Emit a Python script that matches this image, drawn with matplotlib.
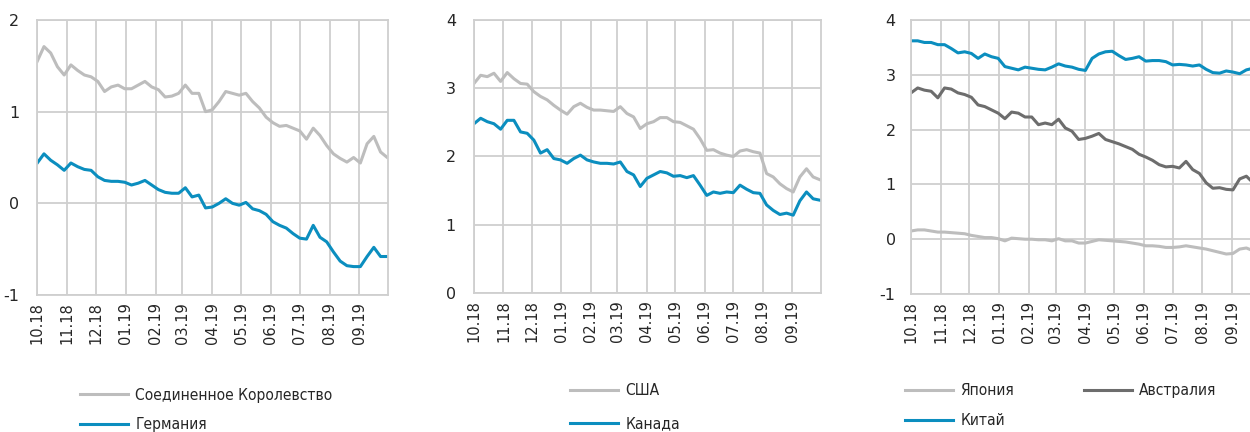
import numpy as np
import pandas as pd
import matplotlib
matplotlib.use("Agg")
import matplotlib.pyplot as plt
import matplotlib.dates as mdates
from matplotlib import font_manager

plt.rcParams["axes.unicode_minus"] = False

# weekly observations, 01.10.2018 - 30.09.2019
dates = pd.date_range("2018-10-01", periods=53, freq="7D")

uk = [1.55, 1.71, 1.64, 1.49, 1.40, 1.51, 1.45, 1.40, 1.38, 1.33, 1.22, 1.27, 1.29,
      1.25, 1.25, 1.29, 1.33, 1.27, 1.24, 1.16, 1.17, 1.20, 1.29, 1.20, 1.20, 1.00,
      1.02, 1.11, 1.22, 1.20, 1.18, 1.20, 1.11, 1.04, 0.94, 0.88, 0.84, 0.85, 0.82,
      0.79, 0.70, 0.82, 0.74, 0.63, 0.54, 0.49, 0.45, 0.50, 0.44, 0.65, 0.73, 0.56, 0.50]
germany = [0.44, 0.54, 0.47, 0.42, 0.36, 0.44, 0.40, 0.37, 0.36, 0.29, 0.25, 0.24, 0.24,
           0.23, 0.20, 0.22, 0.25, 0.20, 0.15, 0.12, 0.11, 0.11, 0.17, 0.07, 0.09, -0.05,
           -0.04, 0.00, 0.05, 0.00, -0.02, 0.01, -0.06, -0.08, -0.12, -0.20, -0.24, -0.27,
           -0.33, -0.38, -0.39, -0.24, -0.37, -0.42, -0.53, -0.63, -0.68, -0.69, -0.69,
           -0.58, -0.48, -0.58, -0.58]

usa = [3.07, 3.19, 3.17, 3.22, 3.10, 3.23, 3.14, 3.07, 3.06, 2.95, 2.88, 2.83, 2.75,
       2.68, 2.62, 2.73, 2.78, 2.72, 2.68, 2.68, 2.67, 2.66, 2.73, 2.63, 2.58, 2.41,
       2.48, 2.51, 2.57, 2.57, 2.51, 2.50, 2.45, 2.40, 2.26, 2.09, 2.10, 2.05, 2.02,
       2.00, 2.08, 2.10, 2.07, 2.05, 1.75, 1.70, 1.60, 1.53, 1.48, 1.70, 1.82, 1.70, 1.66]
canada = [2.48, 2.56, 2.51, 2.48, 2.40, 2.53, 2.53, 2.36, 2.34, 2.24, 2.05, 2.10, 1.97,
          1.95, 1.90, 1.97, 2.02, 1.95, 1.92, 1.90, 1.90, 1.89, 1.92, 1.78, 1.73, 1.56,
          1.68, 1.73, 1.78, 1.76, 1.71, 1.72, 1.69, 1.72, 1.58, 1.43, 1.48, 1.46, 1.48,
          1.47, 1.58, 1.52, 1.47, 1.46, 1.29, 1.21, 1.15, 1.17, 1.14, 1.35, 1.48, 1.38, 1.36]

japan = [0.15, 0.17, 0.17, 0.15, 0.13, 0.13, 0.12, 0.11, 0.10, 0.07, 0.05, 0.03, 0.03,
         0.01, -0.03, 0.02, 0.01, 0.00, 0.00, -0.01, -0.01, -0.03, 0.01, -0.03, -0.03,
         -0.07, -0.07, -0.04, -0.01, -0.02, -0.03, -0.04, -0.05, -0.07, -0.09, -0.12,
         -0.12, -0.13, -0.15, -0.15, -0.14, -0.12, -0.14, -0.16, -0.18, -0.21, -0.24,
         -0.27, -0.26, -0.18, -0.16, -0.21, -0.21]
australia = [2.67, 2.76, 2.72, 2.70, 2.58, 2.76, 2.74, 2.67, 2.64, 2.59, 2.45, 2.42, 2.36,
             2.30, 2.20, 2.32, 2.30, 2.23, 2.23, 2.09, 2.12, 2.09, 2.19, 2.03, 1.97, 1.82,
             1.84, 1.88, 1.93, 1.82, 1.78, 1.74, 1.69, 1.64, 1.55, 1.50, 1.44, 1.36, 1.32,
             1.33, 1.30, 1.42, 1.27, 1.20, 1.03, 0.93, 0.94, 0.91, 0.90, 1.10, 1.15, 1.03, 1.05]
china = [3.62, 3.62, 3.59, 3.59, 3.55, 3.55, 3.48, 3.40, 3.42, 3.39, 3.30, 3.38, 3.33,
         3.30, 3.15, 3.12, 3.09, 3.14, 3.12, 3.10, 3.09, 3.14, 3.20, 3.16, 3.14, 3.10,
         3.08, 3.30, 3.38, 3.42, 3.43, 3.35, 3.28, 3.30, 3.33, 3.25, 3.26, 3.26, 3.24,
         3.18, 3.19, 3.18, 3.16, 3.18, 3.10, 3.04, 3.03, 3.07, 3.05, 3.02, 3.09, 3.12, 3.12]

BLUE = "#0b8ebf"
LGRAY = "#bdbdbd"
DGRAY = "#6d6d6d"
GRID = "#cfcfcf"
TXT = "#262626"

fig = plt.figure(figsize=(12.5, 4.32), dpi=100)

def make_ax(rect, ylim, yticks, ypad):
    ax = fig.add_axes(rect)
    ax.set_xlim(pd.Timestamp("2018-10-01"), pd.Timestamp("2019-10-01"))
    ax.set_ylim(*ylim)
    ax.set_yticks(yticks)
    ax.xaxis.set_major_locator(mdates.MonthLocator())
    ax.xaxis.set_major_formatter(mdates.DateFormatter("%m.%y"))
    ticks = ax.get_xticks()
    ax.set_xticks(ticks[:-1])
    ax.grid(True, color=GRID, linewidth=1.3)
    ax.set_axisbelow(True)
    for s in ax.spines.values():
        s.set_color(GRID)
        s.set_linewidth(1.3)
    ax.tick_params(axis="x", length=0, pad=5, labelsize=10.5, labelrotation=90,
                   labelcolor=TXT)
    ax.tick_params(axis="y", length=0, pad=ypad, labelsize=11.5, labelcolor=TXT)
    return ax

ax1 = make_ax([0.0298, 0.3171, 0.2808, 0.6366], (-1, 2), [-1, 0, 1, 2], 13)
l1, = ax1.plot(dates, uk, color=LGRAY, linewidth=2.2)
l2, = ax1.plot(dates, germany, color=BLUE, linewidth=2.2)

ax2 = make_ax([0.3792, 0.3218, 0.2774, 0.6319], (0, 4), [0, 1, 2, 3, 4], 13)
l3, = ax2.plot(dates, usa, color=LGRAY, linewidth=2.2)
l4, = ax2.plot(dates, canada, color=BLUE, linewidth=2.2)

ax3 = make_ax([0.7288, 0.3194, 0.2798, 0.6343], (-1, 4), [-1, 0, 1, 2, 3, 4], 11)
l5, = ax3.plot(dates, japan, color=LGRAY, linewidth=2.2)
l6, = ax3.plot(dates, australia, color=DGRAY, linewidth=2.2)
l7, = ax3.plot(dates, china, color=BLUE, linewidth=2.2)

leg_font = font_manager.FontProperties(family=["DejaVu Sans"], stretch="condensed", size=11.2)
common = dict(frameon=False, borderpad=0, borderaxespad=0, handlelength=3.1,
              handletextpad=0.45, prop=leg_font, loc="upper left", labelcolor=TXT)

fig.legend([l1, l2], ["Соединенное Королевство", "Германия"], labelspacing=0.95,
           bbox_to_anchor=(0.064, 0.103), **common)
fig.legend([l3, l4], ["США", "Канада"], labelspacing=1.15,
           bbox_to_anchor=(0.456, 0.113), **common)
fig.legend([l5, l7, l6], ["Япония", "Китай", "Австралия"], ncol=2, columnspacing=4.5,
           labelspacing=0.95, bbox_to_anchor=(0.724, 0.113), **common)

fig.savefig("out.png", dpi=100)
